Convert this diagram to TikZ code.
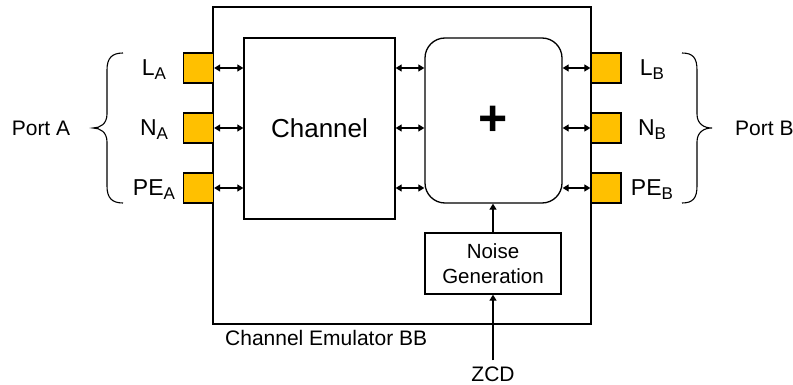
\documentclass[tikz,border=0pt]{standalone}
\usepackage{fontspec}
\setmainfont{Liberation Sans}
\usetikzlibrary{arrows.meta}
\definecolor{portorange}{HTML}{FFC000}
\tikzset{
  x=1pt,y=-1pt,
  box/.style={draw=black,line width=1.3pt,inner sep=0pt},
  portsq/.style={draw=black,line width=1.3pt,fill=portorange,minimum width=30pt,minimum height=30pt,inner sep=0pt},
  lbl/.style={font=\fontsize{21}{24}\selectfont,inner sep=0pt},
  plbl/.style={font=\fontsize{23}{26}\selectfont,inner sep=0pt,anchor=base},
  biarrow/.style={line width=1.2pt,{Triangle[length=6pt,width=7pt]}-{Triangle[length=6pt,width=7pt]}},
  uparrow/.style={line width=1.2pt,-{Triangle[length=6pt,width=7pt]}},
  bracestyle/.style={line width=1.1pt},
}
\newcommand{\portlbl}[2]{#1\raisebox{-4pt}{\fontsize{17}{17}\selectfont #2}}
\begin{document}
\begin{tikzpicture}
\useasboundingbox (0,0) rectangle (793,385);
% outer box
\node[box,minimum width=378pt,minimum height=317pt] (outer) at (402,165.5) {};
% channel
\node[box,minimum width=151pt,minimum height=181pt,font=\fontsize{26}{28}\selectfont] (channel) at (319.5,128.5) {Channel};
% plus
\node[box,rounded corners=20pt,minimum width=137pt,minimum height=165pt] (plus) at (493.5,120.5) {};
\node[inner sep=0pt,font=\fontsize{50}{50}\selectfont\bfseries] (plussign) at (493,121) {+};
% noise generation
\node[box,minimum width=136pt,minimum height=61pt,align=center,font=\fontsize{20.5}{25}\selectfont] (noise) at (493,263.5) {Noise\\Generation};
% ports left
\node[portsq] (LA) at (198.5,68) {};
\node[portsq] (NA) at (198.5,128) {};
\node[portsq] (PEA) at (198.5,188) {};
% ports right
\node[portsq] (LB) at (606,68) {};
\node[portsq] (NB) at (606,128) {};
\node[portsq] (PEB) at (606,188) {};
% port labels
\node[plbl] (tLA) at (154,76) {\portlbl{L}{A}};
\node[plbl] (tNA) at (154,136) {\portlbl{N}{A}};
\node[plbl] (tPEA) at (154,196) {\portlbl{PE}{A}};
\node[plbl] (tLB) at (652,76) {\portlbl{L}{B}};
\node[plbl] (tNB) at (652,136) {\portlbl{N}{B}};
\node[plbl] (tPEB) at (652,196) {\portlbl{PE}{B}};
% arrows
\foreach \p in {LA,NA,PEA}{
  \draw[biarrow] (\p.east) -- (channel.west |- \p.east);
  \draw[biarrow] (channel.east |- \p.east) -- (plus.west |- \p.east);
}
\foreach \p in {LB,NB,PEB}{
  \draw[biarrow] (plus.east |- \p.west) -- (\p.west);
}
\draw[uparrow] (noise.north) -- (noise.north |- plus.south);
% ZCD
\node[lbl] (zcd) at (493,374) {ZCD};
\draw[uparrow,shorten <=6pt] (zcd.north) -- (noise.south);
% caption
\node[lbl,anchor=west] (cap) at (225,338) {Channel Emulator BB};
% braces
\draw[bracestyle] (123,53) .. controls (112,53) and (107,58) .. (107,70) -- (107,114) .. controls (107,124) and (100,128) .. (93,128) .. controls (100,128) and (107,132) .. (107,142) -- (107,186) .. controls (107,198) and (112,203) .. (123,203);
\draw[bracestyle] (682,53) .. controls (693,53) and (697,58) .. (697,70) -- (697,114) .. controls (697,124) and (704,128) .. (712,128) .. controls (704,128) and (697,132) .. (697,142) -- (697,186) .. controls (697,198) and (693,203) .. (682,203);
\node[lbl] (portA) at (41,128) {Port A};
\node[lbl,anchor=west] (portB) at (735,128) {Port B};
\end{tikzpicture}
\end{document}
